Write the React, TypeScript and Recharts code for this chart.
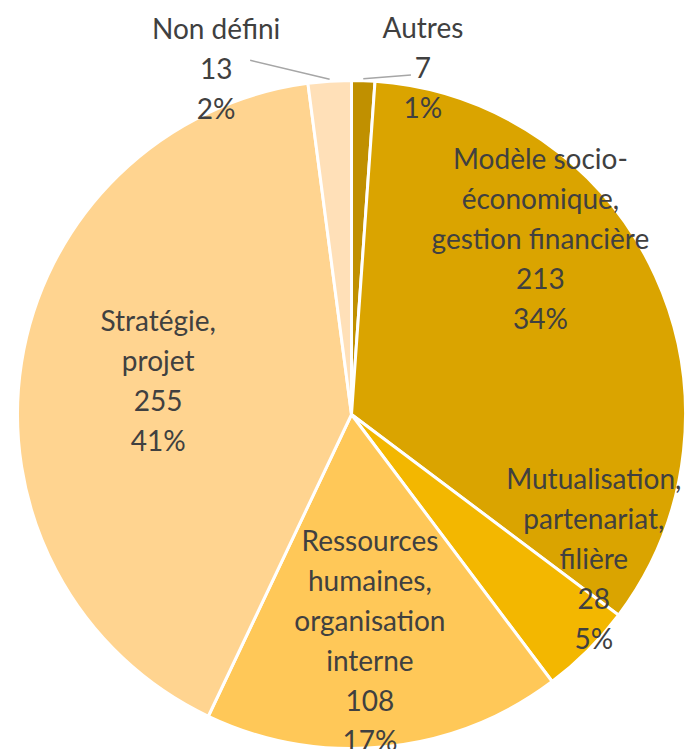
import { PieChart, Pie, Cell } from 'recharts';

const categories = [
  ['Autres'],
  ['Modèle socio-', 'économique,', 'gestion financière'],
  ['Mutualisation,', 'partenariat,', 'filière'],
  ['Ressources', 'humaines,', 'organisation', 'interne'],
  ['Stratégie,', 'projet'],
  ['Non défini'],
];
const counts = [7, 213, 28, 108, 255, 13];
const percents = [1, 34, 5, 17, 41, 2];

const COLORS = ['#C09000', '#DAA400', '#F3B700', '#FFC858', '#FFD490', '#FFE0B8'];
// label placement: angle shift from the slice middle (deg), distance as share of the radius
const LABEL_PLACE = [
  { shift: -9.6, dist: 1.062, leader: true },
  { shift: 18.6, dist: 0.775, leader: false },
  { shift: 14.4, dist: 0.843, leader: false },
  { shift: -1.1, dist: 0.677, leader: false },
  { shift: -1.2, dist: 0.588, leader: false },
  { shift: 17.6, dist: 1.113, leader: true },
];

const data = categories.map((lines, i) => ({
  name: lines.join(' '),
  value: counts[i],
  lines: [...lines, String(counts[i]), `${percents[i]}%`],
}));

const RAD = Math.PI / 180;
const LINE_H = 40;

function renderLabel(props: any) {
  const { cx, cy, midAngle, outerRadius, index } = props;
  const place = LABEL_PLACE[index];
  const a = (midAngle + place.shift) * RAD;
  const px = cx + outerRadius * place.dist * Math.cos(a);
  const py = cy - outerRadius * place.dist * Math.sin(a);
  const lines: string[] = data[index].lines;
  const top = py - ((lines.length - 1) / 2) * LINE_H;

  let leader = null;
  if (place.leader) {
    const sx = cx + outerRadius * Math.cos(midAngle * RAD);
    const sy = cy - outerRadius * Math.sin(midAngle * RAD);
    const ex = index === 0 ? px - 12 : px + 34;
    const ey = index === 0 ? py + 8 : py - 8;
    leader = <polyline points={`${sx},${sy - 2} ${ex},${ey}`} fill="none" stroke="#A6A6A6" strokeWidth={1.5} />;
  }

  return (
    <g key={`lbl-${index}`}>
      {leader}
      <text
        x={px}
        y={top}
        textAnchor="middle"
        dominantBaseline="central"
        fill="#404040"
        fontSize={28}
        fontFamily="Lato, 'Open Sans', sans-serif"
      >
        {lines.map((l, j) => (
          <tspan key={j} x={px} y={top + j * LINE_H}>
            {l}
          </tspan>
        ))}
      </text>
    </g>
  );
}

export default function App() {
  return (
    <div style={{ position: 'absolute', left: 0, top: 0, width: 695, height: 749, background: '#fff' }}>
      <PieChart width={695} height={749} margin={{ top: 0, right: 0, bottom: 0, left: 0 }}>
        <Pie
          data={data}
          dataKey="value"
          nameKey="name"
          cx={351.5}
          cy={414.5}
          outerRadius={334}
          startAngle={90}
          endAngle={-270}
          stroke="#FFFFFF"
          strokeWidth={3}
          label={renderLabel}
          labelLine={false}
          isAnimationActive={false}
        >
          {data.map((d, i) => (
            <Cell key={d.name} fill={COLORS[i]} />
          ))}
        </Pie>
      </PieChart>
    </div>
  );
}
